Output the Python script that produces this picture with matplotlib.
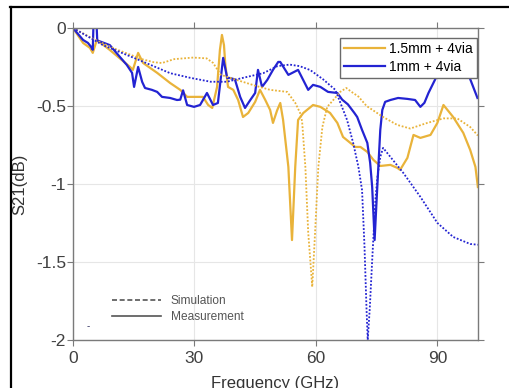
import matplotlib
matplotlib.use('Agg')
import matplotlib.pyplot as plt
from matplotlib.lines import Line2D

plt.rcParams['font.family'] = ['Liberation Sans', 'DejaVu Sans']

# 1.5mm + 4via, measurement (GHz, dB)
f_15_meas = [0, 2.5, 4.2, 4.9, 5.9, 9.1, 14.1, 14.8, 16.1, 17.3, 20.8, 24.0, 26.5,
             28.2, 32.1, 33.4, 34.4, 35.6, 36.3, 36.8, 37.3, 37.6, 38.3, 39.6, 40.8,
             42.0, 43.3, 45.0, 46.2, 47.5, 48.7, 49.4, 50.4, 51.2, 51.9, 53.2, 54.1,
             54.9, 55.6, 56.9, 59.3, 61.1, 63.5, 65.3, 66.7, 68.5, 69.7, 71.0, 72.7,
             74.2, 75.9, 78.4, 80.1, 80.8, 82.6, 84.1, 85.8, 88.3, 90.0, 91.5, 93.9,
             96.4, 98.1, 99.4, 100]
s_15_meas = [0, -0.096, -0.128, -0.16, -0.077, -0.141, -0.25, -0.269, -0.16, -0.224,
             -0.288, -0.353, -0.397, -0.442, -0.442, -0.494, -0.513, -0.378, -0.14,
             -0.045, -0.11, -0.224, -0.378, -0.397, -0.462, -0.571, -0.545, -0.474,
             -0.397, -0.462, -0.526, -0.609, -0.53, -0.481, -0.59, -0.891, -1.36,
             -0.891, -0.59, -0.545, -0.494, -0.506, -0.545, -0.609, -0.699, -0.737,
             -0.763, -0.763, -0.795, -0.846, -0.885, -0.878, -0.897, -0.91, -0.833,
             -0.686, -0.705, -0.686, -0.609, -0.494, -0.571, -0.673, -0.782, -0.891,
             -1.02]

# 1.5mm + 4via, simulation
f_15_sim = [0, 5, 10, 15, 17, 20, 22, 25, 29.7, 33, 34.6, 36.5, 40, 45, 48.7, 52.9,
            54.9, 56.1, 56.6, 57.4, 58.1, 59.1, 59.8, 60.6, 61.6, 62.8, 64.3, 66.0,
            67.5, 68.8, 70.5, 72.5, 76.6, 80.1, 83.3, 87.5, 91.5, 94.9, 98.1, 100]
s_15_sim = [0, -0.07, -0.13, -0.18, -0.2, -0.22, -0.225, -0.2, -0.19, -0.195, -0.224,
            -0.30, -0.33, -0.37, -0.397, -0.41, -0.48, -0.545, -0.6, -0.891, -1.31,
            -1.66, -1.31, -0.891, -0.635, -0.506, -0.462, -0.41, -0.385, -0.41, -0.44,
            -0.5, -0.571, -0.622, -0.645, -0.609, -0.58, -0.58, -0.635, -0.69]

# 1mm + 4via, measurement
f_1_meas = [0, 2.5, 3.7, 4.45, 4.9, 5.1, 5.8, 6.0, 9.1, 11.6, 13.3, 14.6, 15.1, 16.1,
            17.1, 17.8, 19.5, 20.8, 22.0, 24.0, 25.7, 26.5, 27.2, 28.2, 29.9, 31.4,
            33.1, 34.6, 35.8, 37.1, 38.1, 38.8, 40.0, 41.3, 42.5, 43.8, 45.0, 45.7,
            46.7, 48.0, 49.4, 50.7, 51.2, 53.2, 55.6, 58.1, 59.3, 61.1, 63.0, 65.3,
            66.5, 67.9, 69.5, 70.2, 71.4, 72.7, 73.4, 73.9, 74.5, 75.0, 75.9, 76.4,
            77.1, 78.4, 80.3, 82.6, 84.5, 85.8, 86.8, 87.8, 90.0, 91.5, 94.0, 96.0,
            97.7, 99.9]
s_1_meas = [0, -0.077, -0.096, -0.12, -0.14, 0.05, 0.05, -0.08, -0.11, -0.186, -0.237,
            -0.288, -0.378, -0.25, -0.346, -0.385, -0.397, -0.41, -0.442, -0.449,
            -0.462, -0.46, -0.40, -0.494, -0.506, -0.494, -0.417, -0.494, -0.481,
            -0.192, -0.321, -0.321, -0.33, -0.442, -0.513, -0.462, -0.417, -0.269,
            -0.378, -0.333, -0.269, -0.218, -0.218, -0.301, -0.269, -0.397, -0.365,
            -0.378, -0.41, -0.417, -0.46, -0.49, -0.545, -0.571, -0.654, -0.737,
            -0.865, -1.02, -1.36, -1.1, -0.654, -0.526, -0.474, -0.462, -0.449, -0.455,
            -0.462, -0.506, -0.48, -0.417, -0.301, -0.27, -0.2, -0.19, -0.301, -0.449]

# 1mm + 4via, simulation
f_1_sim = [0, 7.4, 15.8, 24, 29, 34, 38, 42, 47, 50.5, 53.5, 56, 58.6, 61.8, 64.8,
           67.7, 69.2, 70.5, 71.4, 72.0, 72.5, 72.8, 73.3, 73.9, 74.7, 75.2, 75.9,
           76.6, 78.4, 81.6, 85.8, 90, 93.9, 98.1, 100]
s_1_sim = [0, -0.11, -0.2, -0.29, -0.32, -0.345, -0.345, -0.32, -0.29, -0.245, -0.235,
           -0.245, -0.27, -0.33, -0.397, -0.59, -0.737, -0.891, -1.04, -1.4, -1.8,
           -2.0, -1.8, -1.49, -1.1, -0.955, -0.827, -0.769, -0.827, -0.93, -1.083,
           -1.25, -1.34, -1.385, -1.39]

xticks = [0, 30, 60, 90]
yticks = [0, -0.5, -1, -1.5, -2]

orange = '#e9b33a'
blue = '#2323d2'
dots = (0, (1, 1))

fig = plt.figure(figsize=(5.1, 3.88), dpi=100)
ax = fig.add_axes([0.143, 0.124, 0.794, 0.804])

ax.plot(f_15_meas, s_15_meas, color=orange, lw=1.6, label='1.5mm + 4via')
ax.plot(f_1_meas, s_1_meas, color=blue, lw=1.6, label='1mm + 4via')
ax.plot(f_15_sim, s_15_sim, color=orange, lw=1.3, ls=dots)
ax.plot(f_1_sim, s_1_sim, color=blue, lw=1.3, ls=dots)

ax.set_xlim(0, 100)
ax.set_ylim(-2, 0)
ax.set_xticks(xticks)
ax.set_yticks(yticks)
ax.set_yticklabels(['0', '-0.5', '-1', '-1.5', '-2'])
ax.grid(True, color='#e6e6e6', lw=0.8)
ax.set_axisbelow(True)
for sp in ax.spines.values():
    sp.set_color('#7a7a7a')
    sp.set_linewidth(1.0)
ax.tick_params(direction='out', length=4, width=0.8, color='#7a7a7a',
               labelsize=12.5, labelcolor='#404040', top=True, right=True,
               labeltop=False, labelright=False)
ax.tick_params(axis='y', pad=1)
ax.tick_params(axis='x', pad=4)
ax.set_xlabel('Frequency (GHz)', fontsize=12, color='#333333', labelpad=7)
ax.set_ylabel('S21(dB)', fontsize=12, color='#333333', labelpad=6)

leg = ax.legend(loc='upper right', bbox_to_anchor=(0.9975, 0.968), borderaxespad=0,
                fontsize=10, handlelength=2.9, handletextpad=0.3, fancybox=False,
                framealpha=1, edgecolor='#6a6a6a', borderpad=0.3, labelspacing=0.25)
leg.get_frame().set_linewidth(1.0)
ax.add_artist(leg)

style_handles = [Line2D([], [], color='#555555', lw=1.2, ls=(0, (3, 1.6))),
                 Line2D([], [], color='#555555', lw=1.2)]
ax.legend(style_handles, ['Simulation', 'Measurement'], loc='lower left',
          bbox_to_anchor=(0.07, 0.02), frameon=False, fontsize=8.6,
          handlelength=4.1, handletextpad=0.8, labelcolor='#555555',
          labelspacing=0.35)
ax.text(3.7, -1.91, '-', fontsize=7, color='#303060', ha='center', va='center')

# screenshot frame
fig.add_artist(Line2D([0.0216, 0.0216], [0, 0.982], color='black', lw=1.6))
fig.add_artist(Line2D([0.02, 1.0], [0.982, 0.982], color='black', lw=1.6))

fig.savefig('out.png', dpi=100)
